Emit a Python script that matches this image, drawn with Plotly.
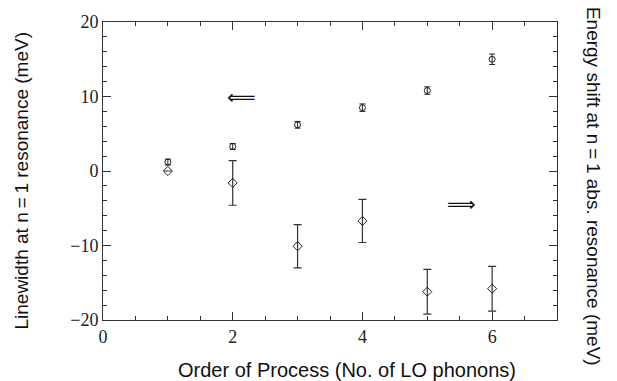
import plotly.graph_objects as go

order = [1, 2, 3, 4, 5, 6]
linewidth = [1.2, 3.3, 6.2, 8.5, 10.8, 15.0]
linewidth_err = [0.4, 0.4, 0.45, 0.5, 0.5, 0.7]
shift = [0.0, -1.6, -10.1, -6.7, -16.2, -15.8]
shift_err = [0.0, 3.0, 2.9, 2.9, 3.0, 3.0]

x_ticks = [0, 2, 4, 6]
y_ticks = [-20, -10, 0, 10, 20]
y_labels = ["\u221220", "\u221210", "0", "10", "20"]

SIDE_FONT = dict(family="Liberation Sans", size=19, color="#111")
X_FONT = dict(family="Liberation Sans", size=20, color="#111")

fig = go.Figure()
fig.add_trace(go.Scatter(
    x=order, y=linewidth, mode="markers",
    marker=dict(symbol="circle-open", size=6, color="#222", line=dict(width=1)),
    error_y=dict(type="data", array=linewidth_err, color="#222", thickness=1, width=3),
))
fig.add_trace(go.Scatter(
    x=order, y=shift, mode="markers",
    marker=dict(symbol="diamond-open", size=7, color="#222", line=dict(width=1)),
    error_y=dict(type="data", array=shift_err, color="#333", thickness=1.2, width=4),
))

fig.add_annotation(x=2.13, y=10, text="\u27f8", showarrow=False,
                   font=dict(size=20, color="#111", family="DejaVu Sans"))
fig.add_annotation(x=5.52, y=-4.4, text="\u27f9", showarrow=False,
                   font=dict(size=20, color="#111", family="DejaVu Sans"))

fig.add_annotation(xref="paper", yref="paper", x=1.0, xshift=36, y=0.45,
                   xanchor="center", yanchor="middle",
                   text="Energy shift at n\u2009=\u20091 abs. resonance (meV)", textangle=90,
                   showarrow=False, font=SIDE_FONT)
fig.add_annotation(xref="paper", yref="paper", x=0.0, xshift=-81, y=0.468,
                   xanchor="center", yanchor="middle",
                   text="Linewidth at n\u2009=\u20091 resonance (meV)", textangle=-90,
                   showarrow=False, font=SIDE_FONT)
fig.add_annotation(xref="paper", yref="paper", x=0.538, y=0.0, yshift=-50,
                   xanchor="center", yanchor="middle",
                   text="Order of Process (No. of LO phonons)",
                   showarrow=False, font=X_FONT)

axis_common = dict(showline=True, linecolor="#333", linewidth=1, mirror="allticks",
                   ticks="inside", ticklen=8, tickcolor="#333", showgrid=False, zeroline=False,
                   tickfont=dict(family="Liberation Serif", size=18, color="#222"))

fig.update_xaxes(range=[0, 7], tickvals=x_ticks,
                 minor=dict(dtick=0.5, ticks="inside", ticklen=4, tickcolor="#333"),
                 **axis_common)
fig.update_yaxes(range=[-20, 20], tickvals=y_ticks, ticktext=y_labels,
                 minor=dict(dtick=2, ticks="inside", ticklen=4, tickcolor="#333"),
                 **axis_common)

fig.update_layout(width=617, height=381, margin=dict(l=103, r=60, t=19, b=61),
                  plot_bgcolor="white", paper_bgcolor="white", showlegend=False)

fig.write_html("out.html")
